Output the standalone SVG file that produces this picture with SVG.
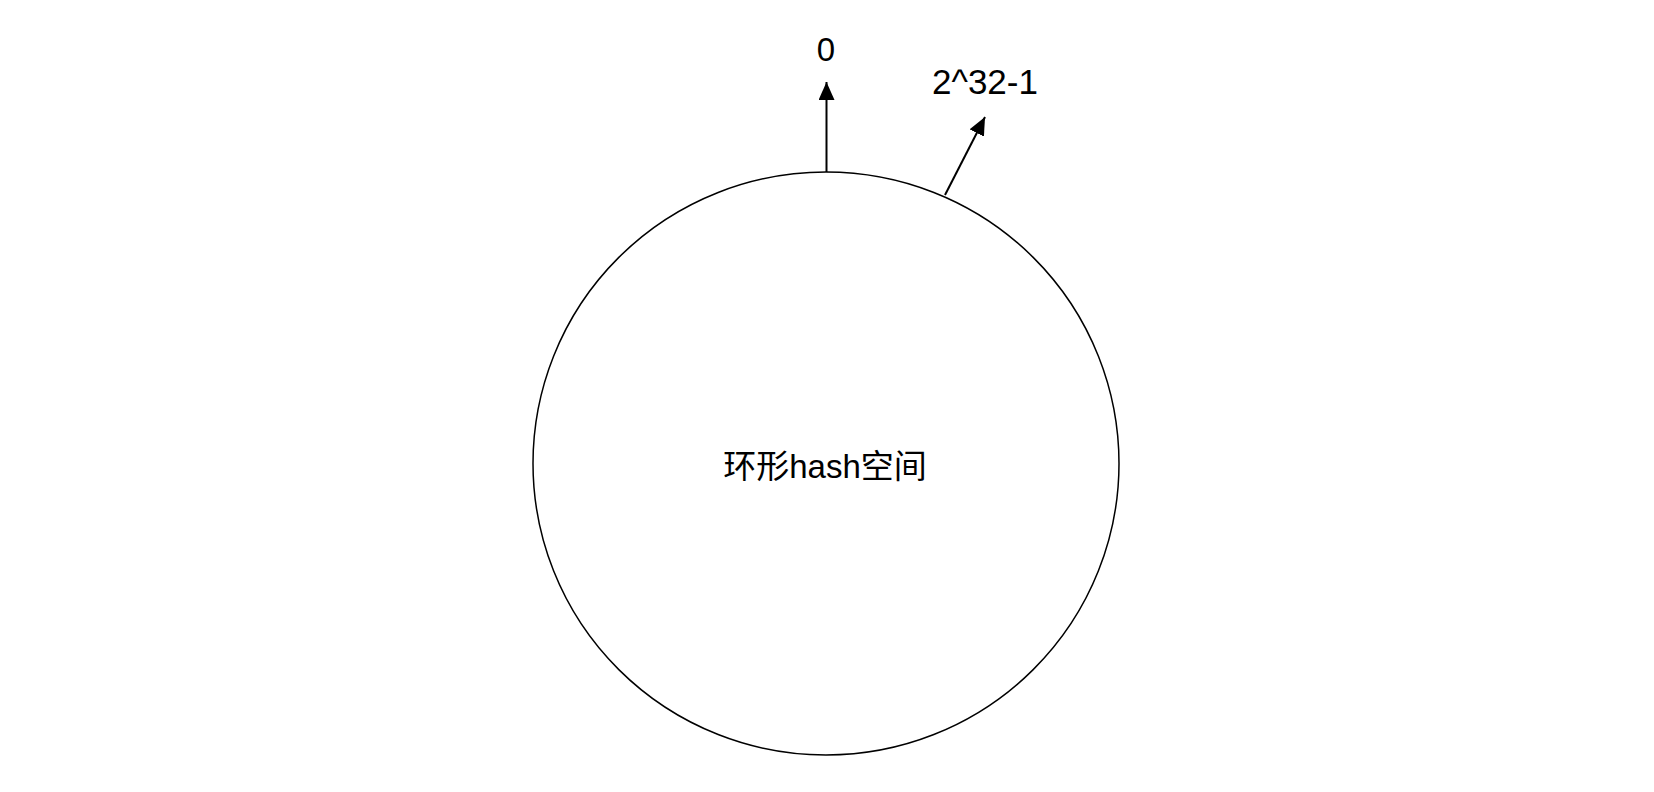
<svg xmlns="http://www.w3.org/2000/svg" width="1654" height="792" viewBox="0 0 1654 792">
<style>
.lbl{font-family:"Liberation Sans","Noto Sans CJK SC",sans-serif;font-size:33px;fill:#000}
.conn{stroke:#000;stroke-width:2;fill:none}
</style>
<defs>
<marker id="ah" viewBox="0 0 18 16" refX="18" refY="8" markerWidth="18" markerHeight="16" markerUnits="userSpaceOnUse" orient="auto">
<path d="M0,0 L18,8 L0,16 z" fill="#000"/>
</marker>
</defs>
<rect width="1654" height="792" fill="#fff"/>
<g id="ring">
<ellipse cx="826" cy="463.5" rx="293" ry="291.5" fill="#fff" stroke="#000" stroke-width="1.5"/>
<text class="lbl" x="825" y="478" text-anchor="middle">环形hash空间</text>
</g>
<g id="label-zero">
<text class="lbl" x="826" y="61" text-anchor="middle">0</text>
</g>
<g id="label-max">
<text class="lbl" x="932" y="94" style="font-size:35px">2^32-1</text>
</g>
<g id="connectors">
<line class="conn" x1="826.5" y1="172" x2="826.5" y2="82" marker-end="url(#ah)"/>
<line class="conn" x1="945" y1="195" x2="985" y2="117" marker-end="url(#ah)"/>
</g>
</svg>
